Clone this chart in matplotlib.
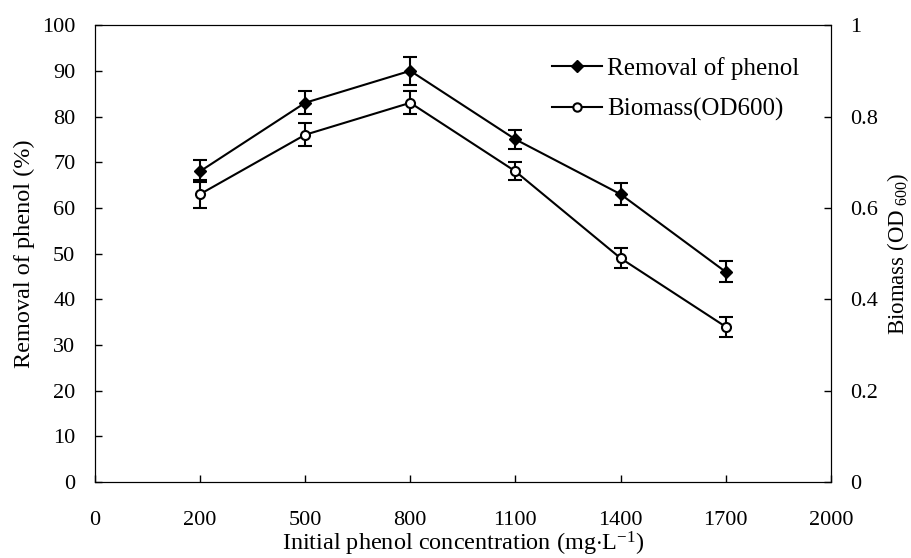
import matplotlib
matplotlib.use("Agg")
import matplotlib.pyplot as plt
from matplotlib.lines import Line2D
import numpy as np

plt.rcParams["font.family"] = ["Liberation Serif", "DejaVu Serif"]
plt.rcParams["mathtext.fontset"] = "custom"
plt.rcParams["mathtext.rm"] = "Liberation Serif"
plt.rcParams["mathtext.it"] = "Liberation Serif:italic"
plt.rcParams["font.size"] = 16

# category axis labels (mg/L)
tick_labels = ["0", "200", "500", "800", "1100", "1400", "1700", "2000"]
concentrations = ["200", "500", "800", "1100", "1400", "1700"]

removal = [68, 83, 90, 75, 63, 46]
removal_err = [2.4, 2.5, 3.0, 2.0, 2.4, 2.3]

biomass = [0.63, 0.76, 0.83, 0.68, 0.49, 0.34]
biomass_err = [0.03, 0.025, 0.025, 0.02, 0.022, 0.022]

pos = {lab: i for i, lab in enumerate(tick_labels)}
x = [pos[c] for c in concentrations]

fig = plt.figure(figsize=(9.12, 5.58), dpi=100)
ax = fig.add_axes([0.104, 0.136, 0.807, 0.819])
ax2 = ax.twinx()

ax.errorbar(x, removal, yerr=removal_err, color="black", lw=1.5,
            marker="D", markersize=6.5, markerfacecolor="black",
            capsize=5, elinewidth=1.5, capthick=1.5)
ax2.errorbar(x, biomass, yerr=biomass_err, color="black", lw=1.5,
             marker="o", markersize=6.5, markerfacecolor="white",
             markeredgewidth=1.5, capsize=5, elinewidth=1.5,
             capthick=1.5)

ax.set_xlim(0, 7)
ax.set_xticks(range(len(tick_labels)))
ax.set_xticklabels(tick_labels)
ax.set_ylim(0, 100)
ax.set_yticks(np.arange(0, 101, 10))
ax2.set_ylim(0, 1)
ax2.set_yticks([0, 0.2, 0.4, 0.6, 0.8, 1])
ax2.set_yticklabels(["0", "0.2", "0.4", "0.6", "0.8", "1"])

ax.tick_params(direction="in", length=5, width=1)
ax.tick_params(axis="x", pad=21)
ax.tick_params(axis="y", pad=14)
ax2.tick_params(direction="in", length=5, width=1, pad=14)

ax.set_xlabel("Initial phenol concentration (mg$\\cdot$L$^{-1}$)",
              fontsize=17.5, labelpad=0)
ax.set_ylabel("Removal of phenol (%)", fontsize=17.5, labelpad=5)
ax2.set_ylabel("Biomass (OD$_{\\ 600}$)", fontsize=16.5, labelpad=5)

handles = [
    Line2D([], [], color="black", lw=1.5, marker="D", markersize=6,
           markerfacecolor="black"),
    Line2D([], [], color="black", lw=1.5, marker="o", markersize=6,
           markerfacecolor="white", markeredgewidth=1.5),
]
ax.legend(handles, ["Removal of phenol", "Biomass(OD600)"],
          loc="upper right", bbox_to_anchor=(0.988, 0.98), frameon=False,
          handlelength=2.0, handletextpad=0.2, labelspacing=0.72,
          fontsize=18)

fig.savefig("out.png", dpi=100)
